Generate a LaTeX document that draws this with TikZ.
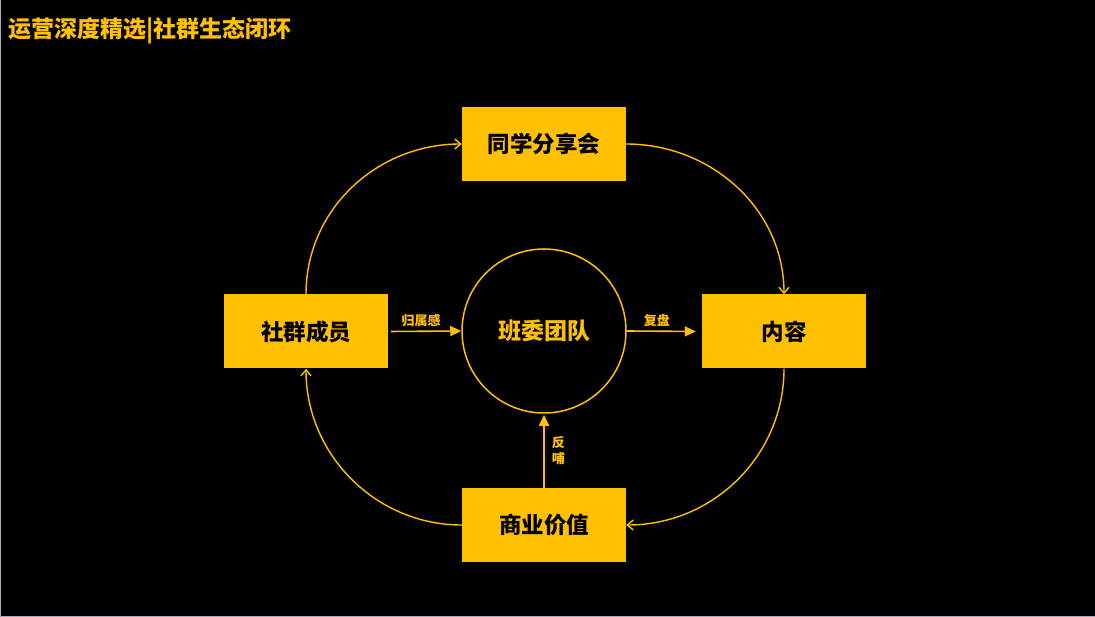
\documentclass[tikz,border=0pt]{standalone}
\usepackage{fontspec}
\setmainfont{Noto Sans CJK SC}
\usetikzlibrary{arrows.meta}
\definecolor{loopyellow}{HTML}{FFC000}
\definecolor{pageedge}{HTML}{A8A8B8}

\begin{document}
\begin{tikzpicture}[
  x=1pt,
  y=1pt,
  line join=round,
  box/.style={fill=loopyellow,draw=none,minimum width=164pt,minimum height=74pt,
    inner sep=0pt,font=\fontsize{22.5}{26}\selectfont\bfseries,text=black},
  core/.style={circle,draw=loopyellow,line width=1.5pt,minimum size=164pt,inner sep=0pt,
    font=\fontsize{23}{26}\selectfont\bfseries,text=loopyellow},
  loopedge/.style={draw=loopyellow,line width=1.4pt,-{Straight Barb[length=6pt,width=10pt,line width=1.4pt]}},
  pushedge/.style={draw=loopyellow,line width=1.6pt,-{Triangle[length=11pt,width=10pt]}},
  tag/.style={font=\fontsize{13}{16}\selectfont\bfseries,text=loopyellow,inner sep=2pt}
]
  % Black page with a thin edge on the left and at the bottom.
  \fill[black] (0,0) rectangle (1095,-617);
  \useasboundingbox (0,0) rectangle (1095,-617);
  \draw[pageedge,line width=1pt] (0.5,0) -- (0.5,-616.5) -- (1095,-616.5);

  \node[anchor=west,inner sep=0pt,text=loopyellow,font=\fontsize{23}{26}\selectfont\bfseries]
    (title) at (8,-31) {运营深度精选|社群生态闭环};

  % The four stations round the loop and the team in the middle.
  \node[core] (team) at (544,-331) {班委团队};
  \node[box] (share) at (544,-144) {同学分享会};
  \node[box] (members) at (306,-331.5) {社群成员};
  \node[box] (content) at (784,-331.5) {内容};
  \node[box] (value) at (544,-525) {商业价值};

  % Outer loop, clockwise.
  \draw[loopedge] (members.north) to[out=90,in=180] (share.west);
  \draw[loopedge] (share.east) to[out=0,in=90] (content.north);
  \draw[loopedge] (content.south) to[out=-90,in=0] (value.east);
  \draw[loopedge] (value.west) to[out=180,in=-90] (members.south);

  % Spokes to and from the team.
  \draw[pushedge,shorten <=3pt] (members.east) -- node[tag,above,pos=0.45,yshift=2pt] {归属感} (team.west);
  \draw[pushedge,shorten >=6pt] (team.east) -- node[tag,above,pos=0.4,yshift=2pt] {复盘} (content.west);
  \draw[pushedge,shorten >=1pt] (value.north) -- node[tag,right,align=center,pos=0.5,xshift=5pt] {反\\哺} (team.south);
\end{tikzpicture}
\end{document}
